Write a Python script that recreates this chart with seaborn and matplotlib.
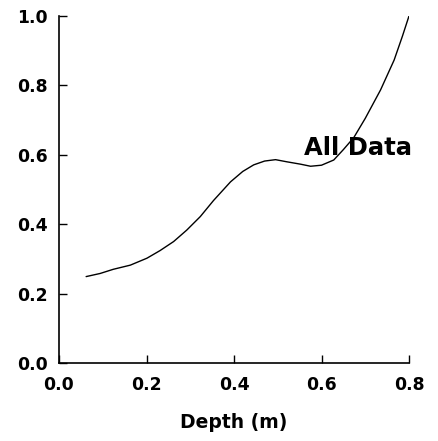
import matplotlib
matplotlib.use("Agg")
import matplotlib.pyplot as plt
import seaborn as sns
import pandas as pd

depth = [0.062, 0.094, 0.124, 0.163, 0.201, 0.231, 0.262, 0.292, 0.323, 0.353,
         0.392, 0.420, 0.445, 0.470, 0.495, 0.520, 0.552, 0.575, 0.600, 0.628,
         0.650, 0.674, 0.700, 0.735, 0.766, 0.785, 0.800]
value = [0.249, 0.258, 0.270, 0.282, 0.302, 0.324, 0.350, 0.383, 0.422, 0.468,
         0.522, 0.552, 0.571, 0.582, 0.586, 0.580, 0.573, 0.567, 0.570, 0.585,
         0.615, 0.650, 0.705, 0.787, 0.873, 0.942, 1.000]
xticks = [0.0, 0.2, 0.4, 0.6, 0.8]
yticks = [0.0, 0.2, 0.4, 0.6, 0.8, 1.0]
xlabel = "Depth (m)"
annotation = "All Data"

sns.set_style("ticks")
plt.rcParams["font.family"] = ["DejaVu Sans"]
plt.rcParams["font.weight"] = "bold"
plt.rcParams["text.color"] = "black"
plt.rcParams["axes.labelcolor"] = "black"

df = pd.DataFrame({"depth": depth, "value": value})

fig = plt.figure(figsize=(4.38, 4.41), dpi=100)
ax = fig.add_axes([59/438, 1 - 363/441, 350/438, 347/441])
sns.lineplot(data=df, x="depth", y="value", color="black", linewidth=1.0, ax=ax, sort=False)

ax.set_xlim(0.0, 0.8)
ax.set_ylim(0.0, 1.0)
ax.set_xticks(xticks)
ax.set_yticks(yticks)
ax.set_xticklabels([f"{t:.1f}" for t in xticks], fontsize=12.4, fontweight="bold")
ax.set_yticklabels([f"{t:.1f}" for t in yticks], fontsize=12.4, fontweight="bold")
ax.tick_params(direction="in", length=5.5, width=1.0, colors="black", labelcolor="black", pad=8)
ax.tick_params(axis="x", pad=9)
ax.set_xlabel(xlabel, fontsize=13.5, fontweight="bold", labelpad=14, color="black")
ax.set_ylabel("")
for s in ["top", "right"]:
    ax.spines[s].set_visible(False)
for s in ["left", "bottom"]:
    ax.spines[s].set_linewidth(1.2)
    ax.spines[s].set_color("black")

ax.text(0.559, 0.62, annotation, fontsize=17.5, fontweight="bold", ha="left", va="center", color="black")

fig.savefig("out.png", dpi=100)
